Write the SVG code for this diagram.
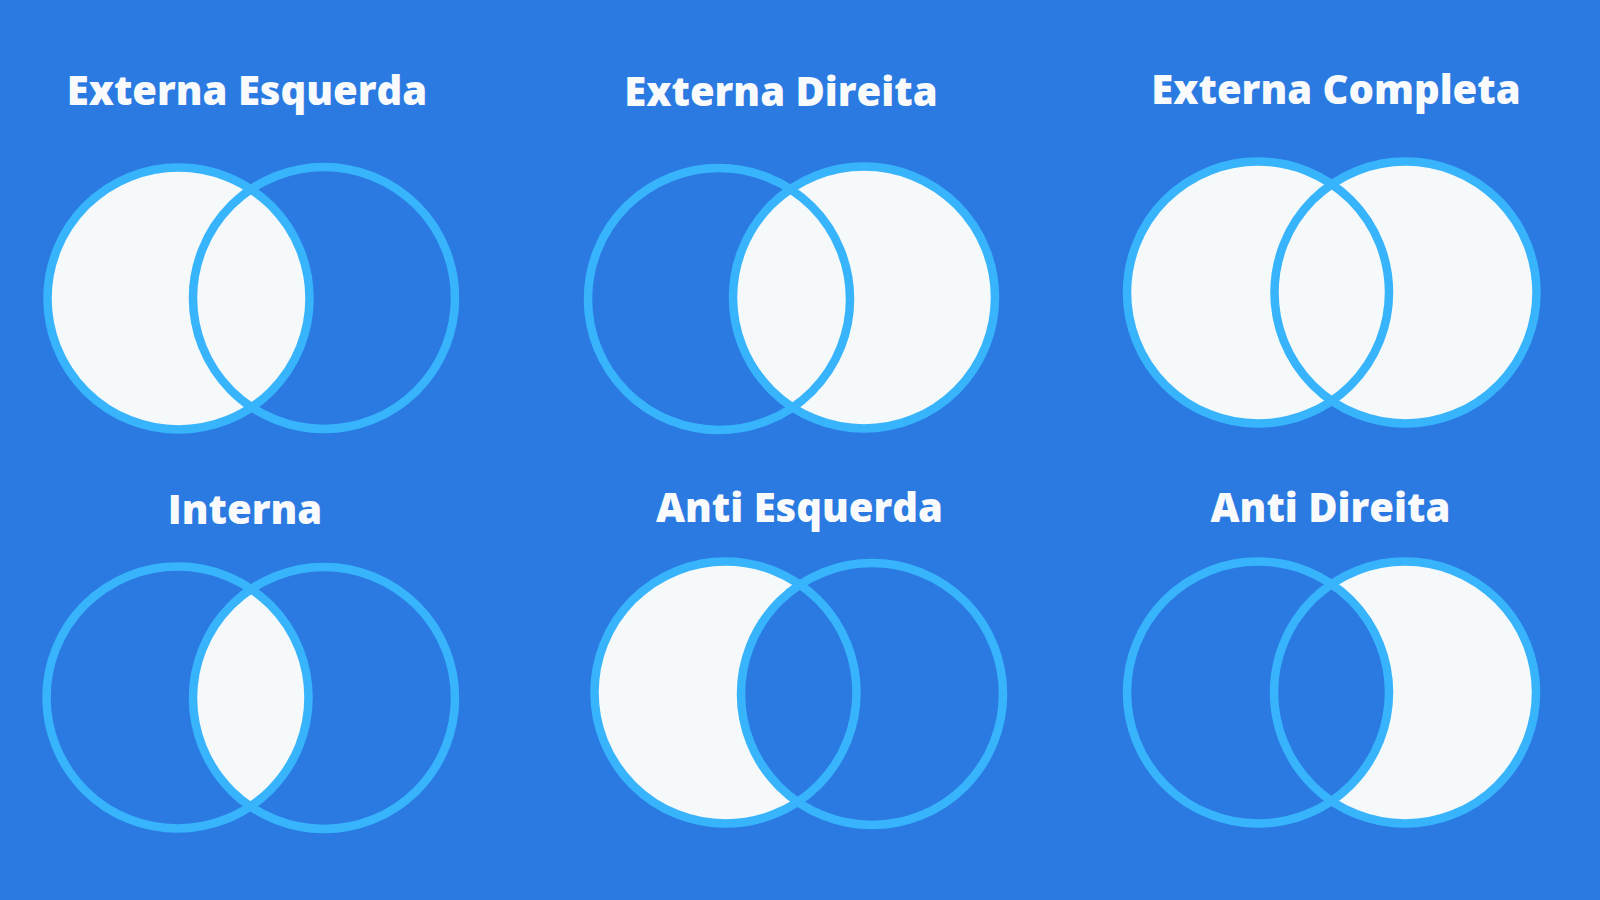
<svg xmlns="http://www.w3.org/2000/svg" width="1600" height="900" viewBox="0 0 1600 900">
<style>
.bg{fill:#2A7AE2}
.t{font-family:"Open Sans","Noto Sans","Liberation Sans",sans-serif;font-weight:800;font-size:40px;fill:#F8FAFC;text-anchor:middle}
.ring{fill:none;stroke:#38B4FC;stroke-width:8.5}
.fill{fill:#F5F9FA}
.hole{fill:#2A7AE2}
</style>
<defs>
<clipPath id="c4"><circle cx="324" cy="698" r="131"/></clipPath>
</defs>
<rect class="bg" x="0" y="0" width="1600" height="900"/>

<g id="externa-esquerda">
<text class="t" x="247" y="105">Externa Esquerda</text>
<circle class="fill" cx="178.5" cy="298.5" r="131"/>
<circle class="ring" cx="178.5" cy="298.5" r="131"/>
<circle class="ring" cx="324" cy="298" r="131"/>
</g>

<g id="externa-direita">
<text class="t" x="781" y="106">Externa Direita</text>
<circle class="fill" cx="864" cy="297.5" r="131"/>
<circle class="ring" cx="719" cy="299" r="131"/>
<circle class="ring" cx="864" cy="297.5" r="131"/>
</g>

<g id="externa-completa">
<text class="t" x="1336" y="104">Externa Completa</text>
<circle class="fill" cx="1258" cy="292.5" r="131"/>
<circle class="fill" cx="1405.5" cy="292.5" r="131"/>
<circle class="ring" cx="1258" cy="292.5" r="131"/>
<circle class="ring" cx="1405.5" cy="292.5" r="131"/>
</g>

<g id="interna">
<text class="t" x="245" y="524">Interna</text>
<circle class="fill" cx="177.5" cy="697.5" r="131" clip-path="url(#c4)"/>
<circle class="ring" cx="177.5" cy="697.5" r="131"/>
<circle class="ring" cx="324" cy="698" r="131"/>
</g>

<g id="anti-esquerda">
<text class="t" x="799.5" y="522">Anti Esquerda</text>
<circle class="fill" cx="725.5" cy="692.5" r="131"/>
<circle class="hole" cx="872" cy="694" r="131"/>
<circle class="ring" cx="725.5" cy="692.5" r="131"/>
<circle class="ring" cx="872" cy="694" r="131"/>
</g>

<g id="anti-direita">
<text class="t" x="1330.5" y="522">Anti Direita</text>
<circle class="fill" cx="1405" cy="692.5" r="131"/>
<circle class="hole" cx="1258" cy="692.5" r="131"/>
<circle class="ring" cx="1258" cy="692.5" r="131"/>
<circle class="ring" cx="1405" cy="692.5" r="131"/>
</g>

<g id="connectors"></g>
</svg>
